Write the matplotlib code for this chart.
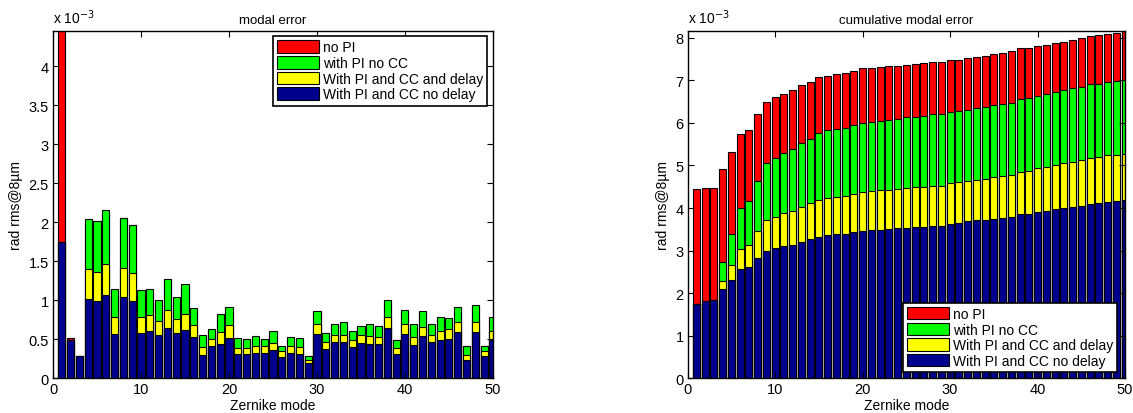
import numpy as np
import matplotlib
matplotlib.use("Agg")
import matplotlib.pyplot as plt
from matplotlib.patches import Patch

plt.rcParams['font.family'] = ['Liberation Sans', 'DejaVu Sans']

# Zernike modes 1..50, errors in units of 1e-3 rad rms @ 8 um
modes = np.arange(1, 51)

modal_with_cc_no_delay = [
    1.75, 0.49, 0.28, 1.01, 0.99, 1.07, 0.57, 1.04, 0.99, 0.58,
    0.60, 0.56, 0.64, 0.58, 0.62, 0.53, 0.30, 0.41, 0.44, 0.52,
    0.31, 0.31, 0.32, 0.325, 0.36, 0.27, 0.325, 0.31, 0.19, 0.57,
    0.375, 0.465, 0.465, 0.40, 0.45, 0.44, 0.44, 0.65, 0.31, 0.57,
    0.43, 0.54, 0.46, 0.49, 0.51, 0.59, 0.235, 0.59, 0.29, 0.495]
modal_with_cc_delay = [
    1.75, 0.49, 0.28, 1.40, 1.36, 1.47, 0.78, 1.41, 1.35, 0.79,
    0.81, 0.73, 0.87, 0.76, 0.83, 0.68, 0.40, 0.51, 0.59, 0.68,
    0.385, 0.385, 0.41, 0.41, 0.45, 0.35, 0.41, 0.40, 0.235, 0.69,
    0.46, 0.56, 0.56, 0.49, 0.55, 0.54, 0.53, 0.79, 0.385, 0.70,
    0.53, 0.66, 0.56, 0.60, 0.63, 0.72, 0.30, 0.72, 0.35, 0.60]
modal_pi_no_cc = [
    1.75, 0.49, 0.28, 2.04, 2.02, 2.16, 1.14, 2.06, 1.97, 1.13,
    1.14, 1.00, 1.27, 1.04, 1.21, 0.90, 0.55, 0.63, 0.82, 0.91,
    0.52, 0.51, 0.54, 0.50, 0.60, 0.41, 0.53, 0.52, 0.29, 0.86,
    0.585, 0.69, 0.72, 0.60, 0.67, 0.69, 0.675, 1.00, 0.495, 0.875,
    0.69, 0.86, 0.70, 0.78, 0.77, 0.91, 0.42, 0.935, 0.42, 0.78]
modal_no_pi = [
    4.45, 0.52, 0.28, 2.03, 2.01, 2.15, 1.13, 2.05, 1.96, 1.12,
    1.13, 0.99, 1.26, 1.03, 1.20, 0.89, 0.54, 0.62, 0.81, 0.90,
    0.51, 0.50, 0.53, 0.49, 0.59, 0.40, 0.52, 0.51, 0.28, 0.85,
    0.575, 0.68, 0.71, 0.59, 0.66, 0.68, 0.665, 0.99, 0.485, 0.865,
    0.68, 0.85, 0.69, 0.77, 0.76, 0.90, 0.41, 0.925, 0.41, 0.77]

cum_with_cc_no_delay = [
    1.75, 1.82, 1.84, 2.09, 2.32, 2.56, 2.61, 2.82, 2.98, 3.05,
    3.10, 3.14, 3.21, 3.27, 3.33, 3.36, 3.39, 3.40, 3.43, 3.47,
    3.48, 3.49, 3.51, 3.52, 3.54, 3.55, 3.56, 3.58, 3.58, 3.63,
    3.65, 3.69, 3.71, 3.73, 3.74, 3.76, 3.79, 3.86, 3.87, 3.91,
    3.94, 3.98, 4.01, 4.03, 4.05, 4.09, 4.11, 4.15, 4.16, 4.20]
cum_with_cc_delay = [
    1.75, 1.82, 1.84, 2.29, 2.66, 3.04, 3.13, 3.45, 3.71, 3.78,
    3.88, 3.94, 4.02, 4.11, 4.19, 4.24, 4.27, 4.29, 4.34, 4.38,
    4.40, 4.42, 4.43, 4.45, 4.47, 4.49, 4.50, 4.53, 4.53, 4.59,
    4.61, 4.64, 4.67, 4.68, 4.73, 4.75, 4.77, 4.85, 4.88, 4.93,
    4.96, 5.02, 5.05, 5.09, 5.13, 5.18, 5.20, 5.24, 5.25, 5.28]
cum_pi_no_cc = [
    1.75, 1.82, 1.84, 2.74, 3.40, 4.01, 4.17, 4.64, 5.05, 5.18,
    5.30, 5.39, 5.54, 5.63, 5.76, 5.83, 5.85, 5.89, 5.95, 6.01,
    6.03, 6.05, 6.08, 6.10, 6.13, 6.15, 6.17, 6.20, 6.20, 6.25,
    6.28, 6.31, 6.35, 6.37, 6.42, 6.45, 6.47, 6.56, 6.59, 6.64,
    6.67, 6.73, 6.77, 6.81, 6.85, 6.91, 6.92, 6.97, 6.99, 7.02]
cum_no_pi = [
    4.45, 4.47, 4.48, 4.91, 5.31, 5.73, 5.84, 6.20, 6.50, 6.60,
    6.69, 6.77, 6.88, 6.96, 7.07, 7.11, 7.14, 7.17, 7.22, 7.28,
    7.29, 7.31, 7.33, 7.34, 7.37, 7.38, 7.40, 7.42, 7.42, 7.47,
    7.49, 7.52, 7.56, 7.58, 7.62, 7.65, 7.69, 7.75, 7.76, 7.80,
    7.83, 7.87, 7.91, 7.95, 7.99, 8.05, 8.06, 8.09, 8.11, 8.15]

labels = ['no PI', 'with PI no CC', 'With PI and CC and delay', 'With PI and CC no delay']
colors = ['#ff0000', '#00ff00', '#ffff00', '#00008f']

fig = plt.figure(figsize=(11.33, 4.14), dpi=100)
ax1 = fig.add_axes([0.0468, 0.0838, 0.3883, 0.8389])
ax2 = fig.add_axes([0.6070, 0.0838, 0.3860, 0.8389])


def draw(ax, series, title, ymax, yticks, legend_loc, legend_anchor):
    # bars overlap: the largest error goes in the back
    for vals, c in zip(series, colors):
        ax.bar(modes, vals, width=0.8, color=c, edgecolor='k', linewidth=0.8)
    ax.set_xlim(0, 50)
    ax.set_ylim(0, ymax)
    ax.set_xticks([0, 10, 20, 30, 40, 50])
    ax.set_yticks(yticks)
    ax.set_yticklabels([('%g' % t) for t in yticks])
    ax.tick_params(direction='in', top=True, right=True, length=4,
                   labelsize=10.5, pad=3)
    for s in ax.spines.values():
        s.set_linewidth(1.0)
    ax.set_title(title, fontsize=9.5, pad=6)
    ax.set_xlabel('Zernike mode', fontsize=10, labelpad=1)
    ax.set_ylabel('rad rms@8\u00b5m', fontsize=10, labelpad=4)
    ax.text(0.0, 1.015, r'x 10$^{-3}$', transform=ax.transAxes,
            fontsize=10, ha='left', va='bottom')
    handles = [Patch(facecolor=c, edgecolor='k', linewidth=0.8) for c in colors]
    leg = ax.legend(handles, labels, loc=legend_loc, bbox_to_anchor=legend_anchor,
                    fontsize=10, fancybox=False, framealpha=1, edgecolor='k',
                    handlelength=3.0, handleheight=1.0, handletextpad=0.3,
                    labelspacing=0.12, borderpad=0.3, borderaxespad=0.0)
    leg.get_frame().set_linewidth(1.2)


draw(ax1, [modal_no_pi, modal_pi_no_cc, modal_with_cc_delay, modal_with_cc_no_delay],
     'modal error', 4.45, [0, 0.5, 1, 1.5, 2, 2.5, 3, 3.5, 4],
     'upper right', (0.987, 0.985))
draw(ax2, [cum_no_pi, cum_pi_no_cc, cum_with_cc_delay, cum_with_cc_no_delay],
     'cumulative modal error', 8.16, [0, 1, 2, 3, 4, 5, 6, 7, 8],
     'lower right', (0.982, 0.018))

fig.savefig('out.png', dpi=100)
